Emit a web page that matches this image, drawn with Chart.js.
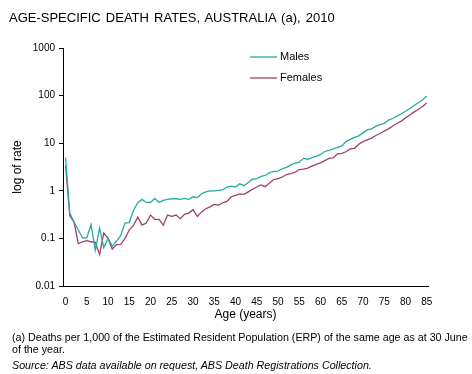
<!DOCTYPE html>
<html>
<head>
<meta charset="utf-8">
<script src="https://cdn.jsdelivr.net/npm/chart.js@4/dist/chart.umd.min.js"></script>
<style>
  body { margin: 0; background: #fff; font-family: "Liberation Sans", Arial, sans-serif; color: #000; }
  #wrap { position: relative; width: 472px; height: 374px; }
  canvas { position: absolute; left: 0; top: 0; }
  .t { position: absolute; white-space: nowrap; }
</style>
</head>
<body>
<div id="wrap">
  <canvas id="myChart" width="472" height="374"></canvas>
  <div class="t" style="left:9px;top:10px;font-size:13px;word-spacing:1.5px">AGE-SPECIFIC DEATH RATES, AUSTRALIA (a), 2010</div>
  <div class="t" style="left:12px;top:331px;font-size:10.7px">(a) Deaths per 1,000 of the Estimated Resident Population (ERP) of the same age as at 30 June</div>
  <div class="t" style="left:12px;top:343px;font-size:10.7px">of the year.</div>
  <div class="t" style="left:12px;top:359px;font-size:10.7px;font-style:italic">Source: ABS data available on request, ABS Death Registrations Collection.</div>
</div>
<script>
var ages = []
for (var a = 0; a <= 85; a++) ages.push(a)

var males = [
  5.0, 0.34, 0.22, 0.15, 0.103, 0.103, 0.195, 0.056, 0.166, 0.064,
  0.10, 0.069, 0.088, 0.116, 0.21, 0.215, 0.39, 0.56, 0.66, 0.57,
  0.57, 0.69, 0.57, 0.63, 0.66, 0.68, 0.68, 0.66, 0.69, 0.66,
  0.75, 0.72, 0.87, 0.95, 1.0, 1.0, 1.02, 1.05, 1.2, 1.25,
  1.2, 1.4, 1.28, 1.5, 1.75, 1.8, 2.0, 2.1, 2.4, 2.55,
  2.6, 2.9, 3.1, 3.5, 3.8, 4.0, 4.8, 4.6, 5.0, 5.3,
  5.8, 6.7, 7.1, 7.6, 8.2, 8.8, 10.8, 12, 13.3, 14.3,
  16.5, 19, 20, 22.5, 24.5, 26, 30.5, 33, 37, 41,
  47, 53, 62, 71, 81, 98
]
var females = [
  3.4, 0.30, 0.22, 0.078, 0.085, 0.09, 0.085, 0.083, 0.046, 0.13,
  0.10, 0.06, 0.074, 0.075, 0.10, 0.15, 0.19, 0.28, 0.19, 0.21,
  0.31, 0.25, 0.25, 0.19, 0.31, 0.29, 0.31, 0.26, 0.32, 0.34,
  0.40, 0.29, 0.36, 0.42, 0.46, 0.52, 0.50, 0.56, 0.60, 0.75,
  0.80, 0.86, 0.84, 0.95, 1.08, 1.2, 1.33, 1.22, 1.45, 1.72,
  1.8, 1.95, 2.2, 2.3, 2.45, 2.8, 2.85, 3.0, 3.3, 3.6,
  3.85, 4.3, 4.8, 4.9, 6.0, 6.1, 6.6, 7.6, 7.8, 9.5,
  10.8, 11.8, 12.8, 14.5, 16, 18, 20, 23, 26, 29,
  34, 39, 45, 51, 59, 70
]
var xTicks = [0, 5, 10, 15, 20, 25, 30, 35, 40, 45, 50, 55, 60, 65, 70, 75, 80, 85]
var yTicks = [0.01, 0.1, 1, 10, 100, 1000]

function pts(vals) {
  return ages.map(function (x, i) { return { x: x, y: vals[i] } })
}

// legend drawn inside the plot, Excel style
var insideLegend = {
  id: 'insideLegend',
  afterDraw: function (chart) {
    var c = chart.ctx
    c.save()
    c.font = '11px "Liberation Sans", Arial, sans-serif'
    c.textBaseline = 'middle'
    chart.data.datasets.forEach(function (ds, i) {
      var y = 57 + i * 21
      c.strokeStyle = ds.borderColor
      c.lineWidth = 1.3
      c.beginPath()
      c.moveTo(250, y)
      c.lineTo(277, y)
      c.stroke()
      c.fillStyle = '#000'
      c.fillText(ds.label, 280, y)
    })
    c.restore()
  }
}

var ctx = document.getElementById('myChart').getContext('2d')
var myChart = new Chart(ctx, {
  type: 'line',
  data: {
    datasets: [
      { label: 'Males', data: pts(males), borderColor: '#2aa9a1', borderWidth: 1.3, pointRadius: 0, tension: 0 },
      { label: 'Females', data: pts(females), borderColor: '#9e3f6f', borderWidth: 1.3, pointRadius: 0, tension: 0 }
    ]
  },
  options: {
    responsive: false,
    animation: false,
    layout: { padding: { left: 0, top: 48, right: 44, bottom: 48 } },
    plugins: {
      legend: { display: false },
      title: { display: false },
      tooltip: { enabled: false }
    },
    scales: {
      x: {
        type: 'linear',
        min: -0.6,
        max: 85.3,
        afterBuildTicks: function (s) { s.ticks = xTicks.map(function (v) { return { value: v } }) },
        afterFit: function (s) { s.height = 40 },
        grid: { display: true, drawOnChartArea: false, drawTicks: false },
        border: { color: '#000', width: 1 },
        ticks: {
          color: '#000', padding: 10, maxRotation: 0, minRotation: 0, autoSkip: false,
          font: { size: 10, family: '"Liberation Sans", Arial, sans-serif' },
          callback: function (v) { return String(v) }
        },
        title: { display: true, text: 'Age (years)', color: '#000', padding: { top: 0, bottom: 4 }, font: { size: 12, family: '"Liberation Sans", Arial, sans-serif' } }
      },
      y: {
        type: 'logarithmic',
        min: 0.01,
        max: 1000,
        afterBuildTicks: function (s) { s.ticks = yTicks.map(function (v) { return { value: v } }) },
        afterFit: function (s) { s.width = 63 },
        grid: { display: true, drawOnChartArea: false, tickLength: 4, color: '#000' },
        border: { color: '#000', width: 1 },
        ticks: {
          color: '#000', padding: 4,
          font: { size: 10, family: '"Liberation Sans", Arial, sans-serif' },
          callback: function (v) { return String(v) }
        },
        title: { display: true, text: 'log of rate', color: '#000', padding: { top: 10, bottom: 0 }, font: { size: 12, family: '"Liberation Sans", Arial, sans-serif' } }
      }
    }
  },
  plugins: [insideLegend]
})
</script>
</body>
</html>
